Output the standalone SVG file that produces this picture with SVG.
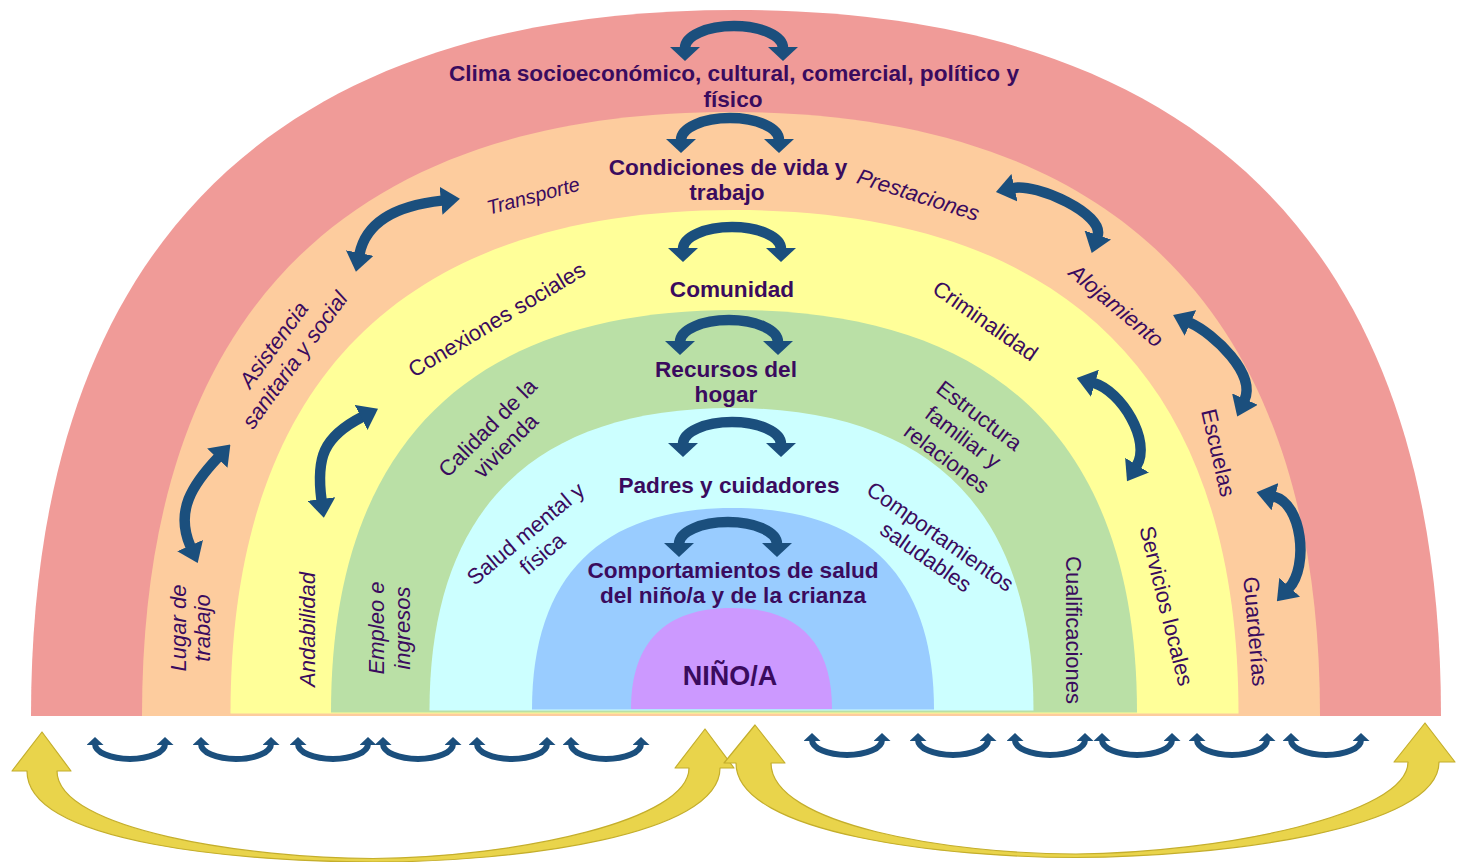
<svg xmlns="http://www.w3.org/2000/svg" width="1457" height="862" viewBox="0 0 1457 862">
<style>
.t{font-family:"Liberation Sans",Arial,sans-serif;fill:#3A0B5E}
.b{font-weight:bold;font-size:22.6px;text-anchor:middle}
.l{font-size:22px;text-anchor:middle}
.i{font-style:italic}
.arr{fill:none;stroke:#1B4F7D}
.c{stroke-width:10.5;marker-start:url(#mc);marker-end:url(#mc)}
.s{stroke-width:10.5;marker-start:url(#ms);marker-end:url(#ms)}
.u{stroke-width:6;marker-start:url(#mu);marker-end:url(#mu)}
.y{fill:#E9D44B;stroke:#C4AE2C;stroke-width:1.2;stroke-linejoin:round}
</style>
<defs>
<marker id="mc" viewBox="0 0 14 30" refX="1" refY="15" markerWidth="14" markerHeight="30" markerUnits="userSpaceOnUse" orient="auto-start-reverse"><path d="M0,0 L14,15 L0,30 Z" fill="#1B4F7D"/></marker>
<marker id="ms" viewBox="0 0 19 28" refX="1" refY="14" markerWidth="19" markerHeight="28" markerUnits="userSpaceOnUse" orient="auto-start-reverse"><path d="M0,0 L19,14 L0,28 Z" fill="#1B4F7D"/></marker>
<marker id="mu" viewBox="0 0 8 17" refX="1" refY="8.5" markerWidth="8" markerHeight="17" markerUnits="userSpaceOnUse" orient="auto-start-reverse"><path d="M0,0 L8,8.5 L0,17 Z" fill="#1B4F7D"/></marker>
<path id="carc" class="arr c" d="M-49,0 A49,22 0 0 1 49,0"/>
<path id="uarc" class="arr u" d="M-35,0 A35,15 0 0 0 35,0"/>
</defs>

<g id="band-clima">
<path d="M31,716 C31,250 270.7,10 736,10 C1201.3,10 1441,250 1441,716 Z" fill="#F09B98"/>
<text class="t b" x="734" y="81">Clima socioeconómico, cultural, comercial, político y</text>
<text class="t b" x="733" y="107">físico</text>
</g>

<g id="band-condiciones">
<path d="M142,716 C142,317.4 342.3,112 731,112 C1119.7,112 1320,317.4 1320,716 Z" fill="#FDCC9E"/>
<text class="t b" x="728" y="175">Condiciones de vida y</text>
<text class="t b" x="727" y="200">trabajo</text>
<text class="t l i" style="font-size:20px" transform="translate(535,202.5) rotate(-15)">Transporte</text>
<text class="t l i" transform="translate(916,202) rotate(17.6)">Prestaciones</text>
<text class="t l i" transform="translate(1111.5,311.4) rotate(40)">Alojamiento</text>
<text class="t l i" transform="translate(279.7,349.1) rotate(-54)"><tspan x="0" y="0">Asistencia</tspan><tspan x="0" dy="26">sanitaria y social</tspan></text>
<text class="t l i" transform="translate(186,628) rotate(-90)"><tspan x="0" y="0">Lugar de</tspan><tspan x="0" dy="24">trabajo</tspan></text>
<text class="t l" transform="translate(1211,454.6) rotate(77)">Escuelas</text>
<text class="t l" transform="translate(1248,632) rotate(85)">Guarderías</text>
</g>

<g id="band-comunidad">
<path d="M230.5,713.5 C230.5,381.2 401.9,210 734.5,210 C1067.1,210 1238.5,381.2 1238.5,713.5 Z" fill="#FFFF99"/>
<text class="t b" x="732" y="297">Comunidad</text>
<text class="t l" transform="translate(500.6,326) rotate(-31)">Conexiones sociales</text>
<text class="t l" transform="translate(981,327) rotate(35)">Criminalidad</text>
<text class="t l i" transform="translate(315,629.5) rotate(-90)">Andabilidad</text>
<text class="t l" transform="translate(1159,607.7) rotate(76)">Servicios locales</text>
</g>

<g id="band-recursos">
<path d="M331,712.5 C331,446.8 468,310 734,310 C1000,310 1137,446.8 1137,712.5 Z" fill="#BAE0A6"/>
<text class="t b" x="726" y="377">Recursos del</text>
<text class="t b" x="726" y="402">hogar</text>
<text class="t l" transform="translate(493,433) rotate(-45)"><tspan x="0" y="0">Calidad de la</tspan><tspan x="0" dy="25.5">vivienda</tspan></text>
<text class="t l" transform="translate(974.8,421.6) rotate(37)"><tspan x="0" y="0">Estructura</tspan><tspan x="0" dy="27">familiar y</tspan><tspan x="0" dy="27">relaciones</tspan></text>
<text class="t l i" transform="translate(384,628) rotate(-90)"><tspan x="0" y="0">Empleo e</tspan><tspan x="0" dy="26">ingresos</tspan></text>
<text class="t l" transform="translate(1065.5,630) rotate(90)">Cualificaciones</text>
</g>

<g id="band-padres">
<path d="M429.5,710.5 C429.5,510.8 532.2,408 731.5,408 C930.8,408 1033.5,510.8 1033.5,710.5 Z" fill="#CCFFFF"/>
<text class="t b" x="729" y="493">Padres y cuidadores</text>
<text class="t l" transform="translate(530.5,539.4) rotate(-40)"><tspan x="0" y="0">Salud mental y</tspan><tspan x="0" dy="26">física</tspan></text>
<text class="t l" transform="translate(936,542.7) rotate(35)"><tspan x="0" y="0">Comportamientos</tspan><tspan x="0" dy="25">saludables</tspan></text>
</g>

<g id="band-comportamientos">
<path d="M532,709.5 C532,576.5 600.3,508 733,508 C865.7,508 934,576.5 934,709.5 Z" fill="#99CCFF"/>
<text class="t b" x="733" y="578">Comportamientos de salud</text>
<text class="t b" x="733" y="603">del niño/a y de la crianza</text>
</g>

<g id="band-nino">
<path d="M631,709 C631,642.3 665.2,608 731.5,608 C797.8,608 832,642.3 832,709 Z" fill="#CC99FF"/>
<text class="t b" style="font-size:27px" x="730" y="685">NIÑO/A</text>
</g>

<g id="connectors">
<use href="#carc" transform="translate(734,48)"/>
<use href="#carc" transform="translate(730,140)"/>
<use href="#carc" transform="translate(732,249)"/>
<use href="#carc" transform="translate(729,342)"/>
<use href="#carc" transform="translate(732,444)"/>
<use href="#carc" transform="translate(728,544)"/>

<path class="arr s" d="M359.5,254 C367,217 405,204.6 442,200.6"/>
<path class="arr s" d="M218,457.5 C192,485 175,511 190.5,546.5"/>
<path class="arr s" d="M362,417 C323,437 316,458 321.5,500"/>
<path class="arr s" d="M1013.5,188 C1036,183 1105,214 1097.5,236"/>
<path class="arr s" d="M1189.5,322.5 C1215,334 1256,374 1244.5,400"/>
<path class="arr s" d="M1274,496.5 C1302,503.5 1309,566 1289,588"/>
<path class="arr s" d="M1094,383 C1121,391 1152,441 1136.5,466"/>

<use href="#uarc" transform="translate(130,744)"/>
<use href="#uarc" transform="translate(236,744)"/>
<use href="#uarc" transform="translate(333,744)"/>
<use href="#uarc" transform="translate(418,744)"/>
<use href="#uarc" transform="translate(512,744)"/>
<use href="#uarc" transform="translate(606,744)"/>
<use href="#uarc" transform="translate(847,740)"/>
<use href="#uarc" transform="translate(953,740)"/>
<use href="#uarc" transform="translate(1050,740)"/>
<use href="#uarc" transform="translate(1137,740)"/>
<use href="#uarc" transform="translate(1232,740)"/>
<use href="#uarc" transform="translate(1326,740)"/>

<path class="y" d="M12,771 L42,732 L71,771 L57,771 C57,830 250,858.5 373,858.5 C520,857 689,820 689,768 L675,768 L705,729 L734,768 L720,768 C720,835 520,862 373,862 C250,862 27,845 27,771 Z"/>
<path class="y" d="M724,763 L755,725 L785,763 L771,763 C771,825 950,854 1076,854 C1220,853 1408,815 1408,762 L1394,762 L1425,723 L1455,762 L1439,762 C1439,830 1220,857 1076,857.5 C950,857.5 736,835 736,763 Z"/>
</g>
</svg>
